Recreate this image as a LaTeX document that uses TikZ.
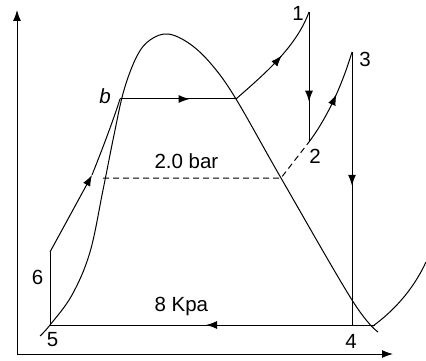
\documentclass[tikz,border=0pt]{standalone}
\usepackage{fontspec}
\setmainfont{Liberation Sans}
\usetikzlibrary{arrows.meta,decorations.markings}
\begin{document}
\begin{tikzpicture}[x=1pt,y=-1pt, line width=1pt,
  tipend/.style={-{Latex[length=11pt,width=8pt]}},
  midarrow/.style={postaction={decorate},decoration={markings,mark=at position #1 with {\arrow{Latex[length=11pt,width=8pt]}}}},
  lbl/.style={font=\fontsize{20.5}{24}\selectfont, inner sep=0pt},
  dashline/.style={dash pattern=on 6pt off 4pt}]
\useasboundingbox (0,0) rectangle (426,361);
% key points
\coordinate (O) at (17,354);
\coordinate (Xend) at (393,354);
\coordinate (Yend) at (17,10);
\coordinate (P5) at (50,325);
\coordinate (P6) at (50,252);
\coordinate (Pa) at (92,175);
\coordinate (Pb) at (120,99);
\coordinate (Pg) at (236,99);
\coordinate (P1) at (309,12);
\coordinate (P2) at (309,142);
\coordinate (P3) at (352,52);
\coordinate (P4) at (352,325);
\coordinate (Pe) at (375,325);
\coordinate (Df) at (103,178);
\coordinate (Dg) at (281,178);
% axes
\draw[tipend] (O) -- (Xend);
\draw[tipend] (O) -- (Yend);
% saturation dome
\draw plot[smooth, tension=0.6] coordinates {(40,336) (50,325) (72,295) (90,252) (103,190) (114,135) (124,90) (137,56) (150,40) (168,34) (190,44) (212,65) (236,99) (281,178) (352,300) (378,332)};
% right curve
\draw (373,326) .. controls (392,312) and (412,292) .. (426,262);
% cycle
\draw (P5) -- (P6);
\draw[tipend] (P6) -- (Pa);
\draw (Pa) .. controls (104,145) and (114,118) .. (Pb);
\draw[midarrow=0.6] (Pb) -- (Pg);
\draw[midarrow=0.55] (Pg) .. controls (262,76) and (296,48) .. (P1);
\draw[midarrow=0.69] (P1) -- (P2);
\draw[midarrow=0.55] (P2) .. controls (324,122) and (340,92) .. (P3);
\draw[midarrow=0.49] (P3) -- (P4);
\draw[midarrow=0.52] (Pe) -- (P5);
\draw[dashline] (Df) -- (Dg) -- (P2);
% labels
\node[lbl] (l1) at (298,13) {1};
\node[lbl] (l2) at (315,156) {2};
\node[lbl] (l3) at (365,59) {3};
\node[lbl] (l4) at (351,341) {4};
\node[lbl] (l5) at (52.5,340) {5};
\node[lbl] (l6) at (37.5,277) {6};
\node[lbl, anchor=base] (lb) at (105,103) {\itshape b};
\node[lbl, anchor=base west] (lbar) at (154,168) {2.0 bar};
\node[lbl, anchor=base west] (lkpa) at (154,311) {8 Kpa};
\end{tikzpicture}
\end{document}
